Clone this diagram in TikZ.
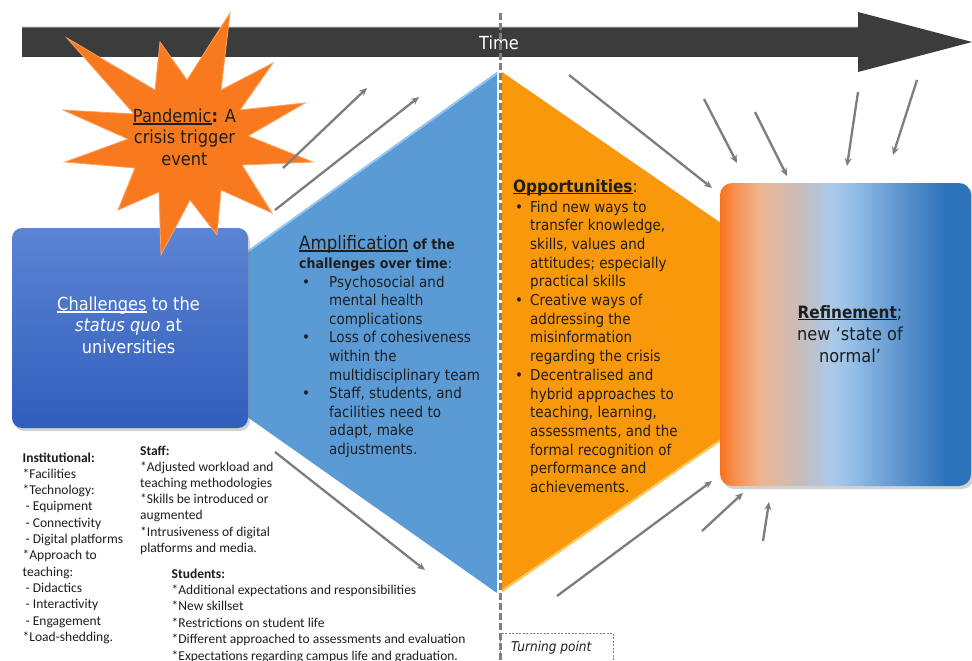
\documentclass[tikz,border=0pt]{standalone}
\usepackage{fontspec}
\setmainfont{DejaVu Sans}[FakeStretch=0.9]
\newfontfamily\calib{Carlito}
\usetikzlibrary{arrows.meta}

% palette
\definecolor{barfill}{RGB}{60,60,60}
\definecolor{baredge}{RGB}{125,125,125}
\definecolor{ampblue}{RGB}{91,155,213}
\definecolor{ampedge}{RGB}{150,198,238}
\definecolor{oppor}{RGB}{248,152,10}
\definecolor{opporedge}{RGB}{255,200,90}
\definecolor{starfill}{RGB}{249,122,30}
\definecolor{staredge}{RGB}{252,160,95}
\definecolor{chaltop}{RGB}{92,132,212}
\definecolor{chalbot}{RGB}{48,94,188}
\definecolor{arrowgray}{RGB}{125,125,125}
\definecolor{dashgray}{RGB}{128,128,128}
\definecolor{ink}{RGB}{30,30,30}
\definecolor{rOr}{RGB}{249,115,30}
\definecolor{rOrB}{RGB}{246,145,80}
\definecolor{rPeach}{RGB}{238,182,145}
\definecolor{rGray}{RGB}{198,188,188}
\definecolor{rLB}{RGB}{172,202,232}
\definecolor{rLB2}{RGB}{150,192,232}
\definecolor{rMB}{RGB}{92,148,206}
\definecolor{rDB}{RGB}{45,115,185}

\pgfdeclarehorizontalshading{refineshade}{100bp}{%
  color(0bp)=(rOr); color(25bp)=(rOr); color(28bp)=(rOrB);
  color(33bp)=(rPeach); color(41bp)=(rGray); color(47bp)=(rLB);
  color(51bp)=(rLB2); color(61bp)=(rMB); color(70bp)=(rDB);
  color(100bp)=(rDB)}

% underline sitting just under the baseline
\newcommand{\ulx}[1]{\leavevmode\setbox0\hbox{#1}\rlap{\rule[-0.14em]{\wd0}{0.06em}}\box0\relax}
\newcommand{\ampbul}{\makebox[30pt][l]{\hspace{3pt}\textbullet}}
\newcommand{\ampind}{\hspace*{30pt}}
\newcommand{\oppbul}{\makebox[17pt][l]{\hspace{2pt}\textbullet}}
\newcommand{\oppind}{\hspace*{17pt}}

\tikzset{
  graylink/.style={draw=arrowgray, line width=2.3pt, -{Stealth[length=8pt,width=7pt]}},
  txt/.style={inner sep=0pt, text=ink},
}

\begin{document}
\begin{tikzpicture}[x=1pt, y=-1pt]
\useasboundingbox (0,0) rectangle (972,661);
\clip (0,0) rectangle (972,661);
\fill[white] (0,0) rectangle (972,661);

% time axis
\fill[barfill] (22,27) -- (858,27) -- (858,12) -- (972,42) -- (858,72) -- (858,57) -- (22,57) -- cycle;
\draw[baredge, line width=1pt] (22,27.5) -- (858,27.5);
\node[anchor=base, inner sep=0pt, text=white, font=\fontsize{18}{20}\selectfont] (time) at (499,50) {Time};

% amplification wedge
\fill[ampblue] (497,72) -- (131,335) -- (497,593) -- cycle;
\draw[ampedge, line width=2pt] (497,73) -- (240,257);

% opportunity wedge
\fill[oppor] (502,72) -- (879,332) -- (502,592) -- cycle;
\draw[opporedge, line width=2pt] (503,590) -- (725,437);

% challenges box
\fill[gray, opacity=0.35, rounded corners=10pt] (14,231) rectangle (250,431);
\shade[top color=chaltop, bottom color=chalbot, rounded corners=10pt] (12,228) rectangle (248,428);
\node[anchor=base, inner sep=0pt, text=white] (challenges) at (128.5,310)
  {\parbox[t]{200pt}{\centering\fontsize{18}{21.5}\selectfont
   \ulx{Challenges} to the\\\textit{status quo} at\\universities}};

% refinement box
\fill[gray, opacity=0.35, rounded corners=12pt] (722,186) rectangle (974,489);
\shade[shading=refineshade, rounded corners=12pt] (720,183) rectangle (971,486);
\node[anchor=base, txt] (refinement) at (850,318)
  {\parbox[t]{200pt}{\centering\fontsize{18}{22}\selectfont
   \textbf{\fontsize{17}{22}\selectfont\ulx{Refinement}};\\new `state of\\normal'}};

% crisis trigger starburst
\filldraw[fill=starfill, draw=staredge, line width=0.8pt, line join=miter]
  (230,13) -- (221,90) -- (273,63) -- (240,110) -- (305,103) -- (248,136)
  -- (313,162) -- (242,165) -- (272,213) -- (221,190) -- (217,235) -- (190,200)
  -- (161,255) -- (159,192) -- (118,210) -- (135,168) -- (65,162) -- (128,139)
  -- (63,110) -- (134,114) -- (67,38) -- (155,90) -- (160,42) -- (187,80) -- cycle;
\node[anchor=base, txt] (pandemic) at (184.5,122)
  {\parbox[t]{150pt}{\centering\fontsize{18}{21.5}\selectfont
   \ulx{Pandemic}\textbf{:} A\\crisis trigger\\event}};

% turning point marker
\draw[white, line width=3pt] (500,72) -- (500,595);
\draw[dashgray, line width=3pt, dash pattern=on 7pt off 3pt] (500,13) -- (500,661);
\node[draw=dashgray, dash pattern=on 2pt off 1.5pt, line width=0.6pt, anchor=north west,
      minimum width=113pt, minimum height=40pt, inner sep=0pt] (tpbox) at (500,633) {};
\node[anchor=base west, txt, font=\fontsize{13.5}{16}\selectfont\itshape] (turning) at (511,651) {Turning point};

% amplification text
\node[anchor=base west, txt] (amphead) at (299,249)
  {\parbox[t]{220pt}{\raggedright\fontsize{14}{19}\selectfont\bfseries
   {\mdseries\fontsize{18.5}{19}\selectfont\ulx{Amplification}} of the\\
   challenges over time{\mdseries:}}};
\node[anchor=base west, txt] (amplist) at (299,287)
  {\parbox[t]{220pt}{\raggedright\fontsize{15}{18.6}\selectfont
   \ampbul Psychosocial and\\
   \ampind mental health\\
   \ampind complications\\
   \ampbul Loss of cohesiveness\\
   \ampind within the\\
   \ampind multidisciplinary team\\
   \ampbul Staff, students, and\\
   \ampind facilities need to\\
   \ampind adapt, make\\
   \ampind adjustments.}};

% opportunities text
\node[anchor=base west, txt] (opphead) at (513,192)
  {\fontsize{17}{19}\selectfont\textbf{\ulx{Opportunities}}:};
\node[anchor=base west, txt] (opplist) at (513,212)
  {\parbox[t]{220pt}{\raggedright\fontsize{15}{18.7}\selectfont
   \oppbul Find new ways to\\
   \oppind transfer knowledge,\\
   \oppind skills, values and\\
   \oppind attitudes; especially\\
   \oppind practical skills\\
   \oppbul Creative ways of\\
   \oppind addressing the\\
   \oppind misinformation\\
   \oppind regarding the crisis\\
   \oppbul Decentralised and\\
   \oppind hybrid approaches to\\
   \oppind teaching, learning,\\
   \oppind assessments, and the\\
   \oppind formal recognition of\\
   \oppind performance and\\
   \oppind achievements.}};

% stakeholder lists
\node[anchor=base west, txt] (institutional) at (22.5,462)
  {\parbox[t]{140pt}{\raggedright\calib\fontsize{13.5}{16.3}\selectfont
   \textbf{Institutional:}\\
   {*}Facilities\\
   {*}Technology:\\
   \hspace*{3pt}- Equipment\\
   \hspace*{3pt}- Connectivity\\
   \hspace*{3pt}- Digital platforms\\
   {*}Approach to\\
   teaching:\\
   \hspace*{3pt}- Didactics\\
   \hspace*{3pt}- Interactivity\\
   \hspace*{3pt}- Engagement\\
   {*}Load-shedding.}};
\node[anchor=base west, txt] (staff) at (140,455)
  {\parbox[t]{160pt}{\raggedright\calib\fontsize{13.5}{16.2}\selectfont
   \textbf{Staff:}\\
   {*}Adjusted workload and\\
   teaching methodologies\\
   {*}Skills be introduced or\\
   augmented\\
   {*}Intrusiveness of digital\\
   platforms and media.}};
\node[anchor=base west, txt] (students) at (171.5,578)
  {\parbox[t]{330pt}{\raggedright\calib\fontsize{13.5}{16.4}\selectfont
   \textbf{Students:}\\
   {*}Additional expectations and responsibilities\\
   {*}New skillset\\
   {*}Restrictions on student life\\
   {*}Different approached to assessments and evaluation\\
   {*}Expectations regarding campus life and graduation.}};

% influence arrows
\coordinate (a1s) at (283,168); \coordinate (a1e) at (367,88);
\coordinate (a2s) at (275,210); \coordinate (a2e) at (419,97);
\coordinate (a3s) at (275,452); \coordinate (a3e) at (425,570);
\coordinate (a4s) at (569,75);  \coordinate (a4e) at (712,188);
\coordinate (a5s) at (704,99);  \coordinate (a5e) at (737,163);
\coordinate (a6s) at (755,112); \coordinate (a6e) at (787,176);
\coordinate (a7s) at (858,92);  \coordinate (a7e) at (847,166);
\coordinate (a8s) at (917,80);  \coordinate (a8e) at (893,155);
\coordinate (a9s) at (557,596); \coordinate (a9e) at (712,481);
\coordinate (a10s) at (702,531); \coordinate (a10e) at (743,493);
\coordinate (a11s) at (763,541); \coordinate (a11e) at (769,502);
\foreach \i in {1,...,11} { \draw[graylink] (a\i s) -- (a\i e); }
\end{tikzpicture}
\end{document}
